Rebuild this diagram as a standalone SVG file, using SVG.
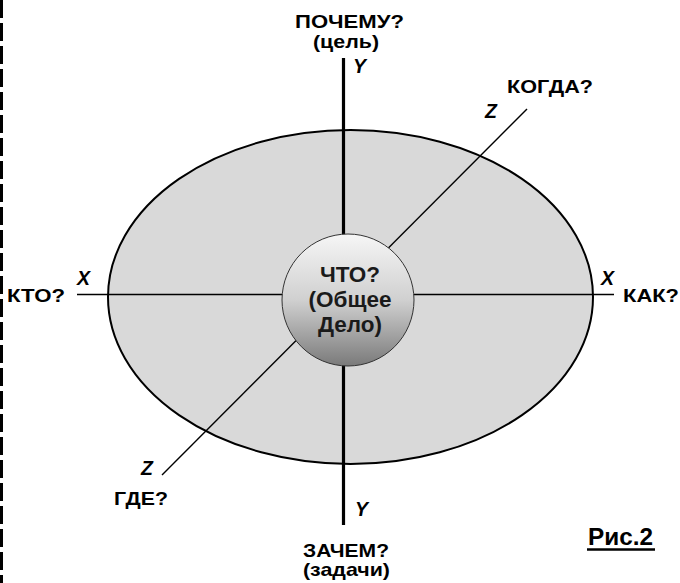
<svg xmlns="http://www.w3.org/2000/svg" width="680" height="583" viewBox="0 0 680 583">
<defs>
<linearGradient id="sph" x1="0" y1="0" x2="0" y2="1">
<stop offset="0" stop-color="#f6f6f6"/>
<stop offset="0.5" stop-color="#d0d0d0"/>
<stop offset="1" stop-color="#7a7a7a"/>
</linearGradient>
<style>
text{font-family:"Liberation Sans",Arial,sans-serif;font-weight:bold;fill:#000}
.q{font-size:18.5px}
.ax{font-size:19.5px;font-style:italic}
.c{font-size:22.5px;fill:#1a1a1a}
</style>
</defs>
<rect width="680" height="583" fill="#fff"/>
<line x1="1.5" y1="0" x2="1.5" y2="583" stroke="#000" stroke-width="3" stroke-dasharray="18,5"/>
<g id="plane">
<ellipse cx="350.5" cy="297" rx="242.5" ry="167" fill="#d9d9d9" stroke="#000" stroke-width="2"/>
</g>
<g id="connectors" stroke="#000">
<line x1="77" y1="294.5" x2="614" y2="294.5" stroke-width="1.6"/>
<line x1="527" y1="109" x2="162" y2="475" stroke-width="1.4"/>
<line x1="343.5" y1="58" x2="343.5" y2="525" stroke-width="3.2"/>
</g>
<g id="center">
<circle cx="348" cy="300" r="66" fill="url(#sph)" stroke="#333" stroke-width="1"/>
<text class="c" x="350" y="282" text-anchor="middle">ЧТО?</text>
<text class="c" x="350" y="307" text-anchor="middle">(Общее</text>
<text class="c" x="350" y="332" text-anchor="middle">Дело)</text>
</g>
<g id="top">
<text class="q" x="295" y="28" textLength="109" lengthAdjust="spacingAndGlyphs">ПОЧЕМУ?</text>
<text class="q" x="313" y="47.5" textLength="66" lengthAdjust="spacingAndGlyphs">(цель)</text>
<text class="ax" x="353" y="73">Y</text>
</g>
<g id="bottom">
<text class="ax" x="355" y="516">Y</text>
<text class="q" x="303" y="557" textLength="86" lengthAdjust="spacingAndGlyphs">ЗАЧЕМ?</text>
<text class="q" x="303" y="576" textLength="87" lengthAdjust="spacingAndGlyphs">(задачи)</text>
</g>
<g id="kogda">
<text class="q" x="507" y="93" textLength="86" lengthAdjust="spacingAndGlyphs">КОГДА?</text>
<text class="ax" x="485" y="118">Z</text>
</g>
<g id="gde">
<text class="ax" x="141" y="475">Z</text>
<text class="q" x="114" y="505" textLength="54" lengthAdjust="spacingAndGlyphs">ГДЕ?</text>
</g>
<g id="kto">
<text class="ax" x="77" y="285">X</text>
<text class="q" x="7" y="302" textLength="58" lengthAdjust="spacingAndGlyphs">КТО?</text>
</g>
<g id="kak">
<text class="ax" x="601" y="285">X</text>
<text class="q" x="623" y="302" textLength="56" lengthAdjust="spacingAndGlyphs">КАК?</text>
</g>
<g id="caption">
<text x="588" y="545" style="font-size:23px" textLength="65" lengthAdjust="spacingAndGlyphs">Рис.2</text>
<line x1="587" y1="549.5" x2="655" y2="549.5" stroke="#000" stroke-width="2.5"/>
</g>
</svg>
